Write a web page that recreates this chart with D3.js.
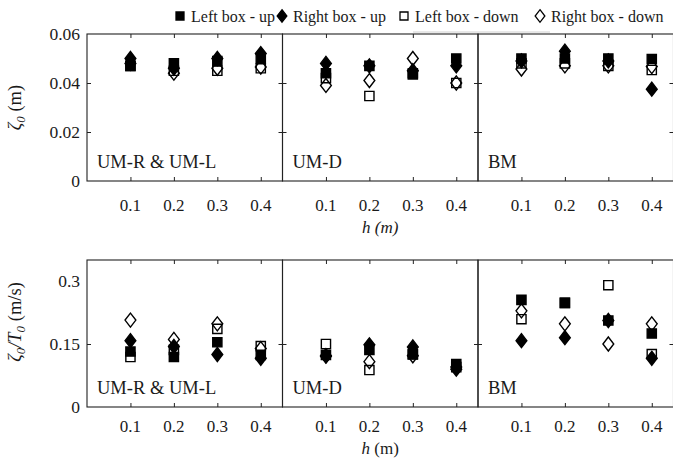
<!DOCTYPE html>
<html>
<head>
<meta charset="utf-8">
<script src="https://cdn.jsdelivr.net/npm/d3@7"></script>
<style>
  html, body { margin: 0; padding: 0; background: #fff; }
  svg { display: block; }
</style>
</head>
<body>
<svg id="chart" width="673" height="461"></svg>
<script>
// Depth values along the x axis
const depths = [0.1, 0.2, 0.3, 0.4];
const panelNames = ["UM-R & UM-L", "UM-D", "BM"];
const seriesNames = ["Left box - up", "Right box - up", "Left box - down", "Right box - down"];

// Amplitude ζ0 (m), one array per series, one row per panel
const ampLeftUp    = [[0.047, 0.048, 0.049, 0.050], [0.044, 0.047, 0.0435, 0.050], [0.050, 0.050, 0.050, 0.0498]];
const ampRightUp   = [[0.050, 0.046, 0.050, 0.052], [0.048, 0.047, 0.045, 0.047],  [0.049, 0.053, 0.049, 0.0375]];
const ampLeftDown  = [[0.047, 0.045, 0.045, 0.046], [0.042, 0.0347, 0.044, 0.040], [0.048, 0.048, 0.047, 0.0453]];
const ampRightDown = [[0.048, 0.044, 0.046, 0.0465], [0.039, 0.041, 0.050, 0.040], [0.0457, 0.047, 0.047, 0.0467]];

// Amplitude / period ζ0/T0 (m/s)
const rateLeftUp    = [[0.132, 0.119, 0.154, 0.124], [0.124, 0.136, 0.126, 0.102], [0.255, 0.248, 0.206, 0.175]];
const rateRightUp   = [[0.158, 0.144, 0.125, 0.116], [0.121, 0.148, 0.143, 0.090], [0.158, 0.165, 0.206, 0.116]];
const rateLeftDown  = [[0.119, 0.136, 0.186, 0.145], [0.150, 0.088, 0.125, 0.095], [0.209, 0.248, 0.290, 0.126]];
const rateRightDown = [[0.207, 0.161, 0.198, 0.139], [0.122, 0.108, 0.122, 0.095], [0.229, 0.198, 0.150, 0.198]];

const ampTicks = [0, 0.02, 0.04, 0.06];
const ampTickLabels = ["0", "0.02", "0.04", "0.06"];
const rateTicks = [0, 0.15, 0.3];
const rateTickLabels = ["0", "0.15", "0.3"];
const xTickLabels = ["0.1", "0.2", "0.3", "0.4"];

const FONT = "Liberation Serif";
const INK = "#1a1a1a";
const svg = d3.select("#chart");

// Panel geometry
const panelLeft = 87, panelW = 195.5;
const rows = [
  { top: 34, bottom: 181, max: 0.06, ticks: ampTicks, labels: ampTickLabels,
    series: [ampLeftUp, ampRightUp, ampLeftDown, ampRightDown], ylabel: "amp",
    xlabelItalic: true, tickDy: 30, titleDy: 52 },
  { top: 260, bottom: 407, max: 0.35, ticks: rateTicks, labels: rateTickLabels,
    series: [rateLeftUp, rateRightUp, rateLeftDown, rateRightDown], ylabel: "rate",
    xlabelItalic: false, tickDy: 25, titleDy: 47 }
];

// Marker shapes: filled square, filled diamond, open square, open diamond
function markerPath(kind, cx, cy, k = 1) {
  if (kind === "square") {
    const s = 4.6 * k;
    return `M${cx - s},${cy - s}H${cx + s}V${cy + s}H${cx - s}Z`;
  }
  const w = 5.4 * k, h = 7 * k;
  return `M${cx},${cy - h}L${cx + w},${cy}L${cx},${cy + h}L${cx - w},${cy}Z`;
}
const styles = [
  { kind: "square", fill: "#000" },
  { kind: "diamond", fill: "#000" },
  { kind: "square", fill: "none" },
  { kind: "diamond", fill: "none" }
];

function txt(sel) {
  return sel.style("font-family", FONT).attr("fill", INK);
}

rows.forEach(row => {
  const y = d3.scaleLinear().domain([0, row.max]).range([row.bottom, row.top]);
  for (let p = 0; p < 3; p++) {
    const x0 = panelLeft + p * panelW;
    const x = d3.scaleLinear().domain([0, 0.45]).range([x0, x0 + panelW]);
    const g = svg.append("g");

    // Inward ticks on all four sides
    const axB = d3.axisTop(x).tickValues(depths).tickSize(4).tickFormat("");
    const axT = d3.axisBottom(x).tickValues(depths).tickSize(4).tickFormat("");
    const axL = d3.axisRight(y).tickValues(row.ticks.slice(1, -1)).tickSize(4).tickFormat("");
    const axR = d3.axisLeft(y).tickValues(row.ticks.slice(1, -1)).tickSize(4).tickFormat("");
    g.append("g").attr("transform", `translate(0,${row.bottom})`).call(axB);
    g.append("g").attr("transform", `translate(0,${row.top})`).call(axT);
    g.append("g").attr("transform", `translate(${x0},0)`).call(axL);
    g.append("g").attr("transform", `translate(${x0 + panelW},0)`).call(axR);
    g.selectAll(".domain").remove();
    g.selectAll(".tick line").attr("stroke", "#222").attr("stroke-width", 1);

    // Frame
    g.append("rect")
      .attr("x", x0).attr("y", row.top)
      .attr("width", panelW).attr("height", row.bottom - row.top)
      .attr("fill", "none").attr("stroke", "#222").attr("stroke-width", 1.1);

    // x tick labels
    txt(g.selectAll("text.xt").data(depths).enter().append("text"))
      .attr("x", d => x(d)).attr("y", row.bottom + row.tickDy)
      .attr("text-anchor", "middle").style("font-size", "17px")
      .text((d, i) => xTickLabels[i]);

    // Panel name
    txt(g.append("text"))
      .attr("x", x0 + 10).attr("y", row.bottom - 13)
      .style("font-size", "18.5px")
      .text(panelNames[p]);

    // Markers, in series order
    row.series.forEach((ser, si) => {
      const st = styles[si];
      g.selectAll(null).data(depths).enter().append("path")
        .attr("d", (d, i) => markerPath(st.kind, x(d), y(ser[p][i])))
        .attr("fill", st.fill)
        .attr("stroke", "#000")
        .attr("stroke-width", 1.4);
    });

    // y tick labels on the first panel only
    if (p === 0) {
      txt(svg.selectAll(null).data(row.ticks).enter().append("text"))
        .attr("x", x0 - 7).attr("y", d => y(d) + 6)
        .attr("text-anchor", "end").style("font-size", "17.5px")
        .text((d, i) => row.labels[i]);
    }
  }

  // x axis title
  const xt = txt(svg.append("text"))
    .attr("x", panelLeft + panelW * 1.5).attr("y", row.bottom + row.titleDy)
    .attr("text-anchor", "middle").style("font-size", "17px");
  if (row.xlabelItalic) {
    xt.style("font-style", "italic").text("h (m)");
  } else {
    xt.append("tspan").style("font-style", "italic").text("h");
    xt.append("tspan").text(" (m)");
  }

  // y axis title
  const cy = row.ylabel === "amp" ? (row.top + row.bottom) / 2 : 322;
  const yt = txt(svg.append("text"))
    .attr("transform", `translate(21,${cy}) rotate(-90)`)
    .attr("text-anchor", "middle").style("font-size", "18.5px");
  if (row.ylabel === "amp") {
    yt.append("tspan").style("font-style", "italic").text("ζ");
    yt.append("tspan").style("font-style", "italic").style("font-size", "13px").attr("dy", 4).text("0");
    yt.append("tspan").attr("dy", -4).text(" (m)");
  } else {
    yt.append("tspan").style("font-style", "italic").text("ζ");
    yt.append("tspan").style("font-style", "italic").style("font-size", "13px").attr("dy", 4).text("0");
    yt.append("tspan").style("font-style", "italic").attr("dy", -4).text("/T");
    yt.append("tspan").style("font-style", "italic").style("font-size", "13px").attr("dy", 4).text("0");
    yt.append("tspan").attr("dy", -4).text(" (m/s)");
  }
});

// Legend across the top
const legendX = [180, 282, 404, 540];
const legend = svg.append("g");
legend.append("line")
  .attr("x1", 413).attr("x2", 550).attr("y1", 32).attr("y2", 32)
  .attr("stroke", "#d0d0d0").attr("stroke-width", 1);
seriesNames.forEach((name, i) => {
  const st = styles[i];
  const lx = legendX[i];
  legend.append("path")
    .attr("d", markerPath(st.kind, lx, 16, st.kind === "square" ? 0.87 : 0.9))
    .attr("fill", st.fill).attr("stroke", "#000").attr("stroke-width", 1.3);
  txt(legend.append("text"))
    .attr("x", lx + 11).attr("y", 21.5)
    .style("font-size", "16px")
    .text(name);
});
</script>
</body>
</html>
